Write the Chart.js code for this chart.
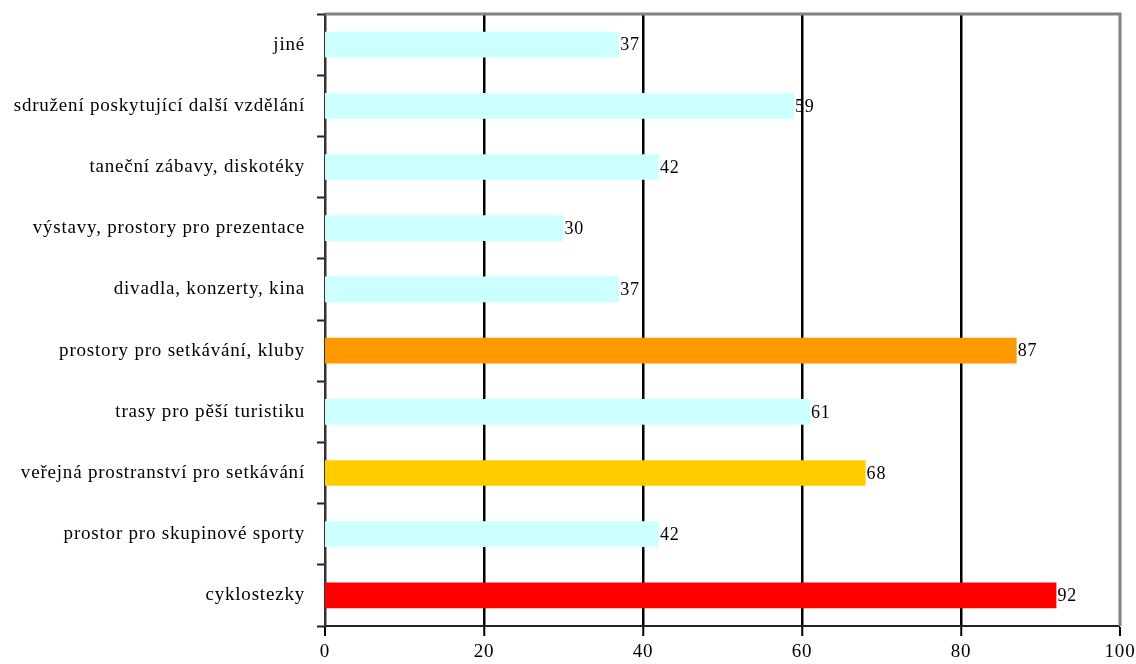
<!DOCTYPE html>
<html>
<head>
<meta charset="utf-8">
<script src="https://cdn.jsdelivr.net/npm/chart.js@4/dist/chart.umd.min.js"></script>
<style>
  html, body { margin: 0; padding: 0; background: #fff; }
  #wrap { width: 1136px; height: 664px; }
</style>
</head>
<body>
<div id="wrap"><canvas id="barChart" width="1136" height="664"></canvas></div>
<script>
// data, top row first
const categories = [
    'jiné',
    'sdružení poskytující další vzdělání',
    'taneční zábavy, diskotéky',
    'výstavy, prostory pro prezentace',
    'divadla, konzerty, kina',
    'prostory pro setkávání, kluby',
    'trasy pro pěší turistiku',
    'veřejná prostranství pro setkávání',
    'prostor pro skupinové sporty',
    'cyklostezky'
];
const values = [37, 59, 42, 30, 37, 87, 61, 68, 42, 92];
const xTicks = [0, 20, 40, 60, 80, 100];

const barColors = ['#CCFFFF', '#CCFFFF', '#CCFFFF', '#CCFFFF', '#CCFFFF',
    '#FF9900', '#CCFFFF', '#FFCC00', '#CCFFFF', '#FF0000'];

const FONT = "'Liberation Serif', 'DejaVu Serif', serif";

// value labels at bar ends + gray frame on top/right
const extras = {
    id: 'extras',
    beforeUpdate(chart) { chart.ctx.letterSpacing = '0.8px'; },
    beforeDraw(chart) { chart.ctx.letterSpacing = '0.8px'; },
    beforeDatasetsDraw(chart) {
        const a = chart.chartArea;
        const ctx = chart.ctx;
        ctx.save();
        ctx.strokeStyle = '#808080';
        ctx.lineWidth = 3;
        ctx.beginPath();
        ctx.moveTo(a.left, a.top);
        ctx.lineTo(a.right, a.top);
        ctx.lineTo(a.right, a.bottom);
        ctx.stroke();
        ctx.restore();
    },
    afterDatasetsDraw(chart) {
        const ctx = chart.ctx;
        const meta = chart.getDatasetMeta(0);
        ctx.save();
        ctx.font = '18px ' + FONT;
        ctx.fillStyle = '#000';
        ctx.textBaseline = 'middle';
        meta.data.forEach((bar, i) => {
            ctx.fillText(values[i], bar.x + 1, bar.y + 1);
        });
        ctx.restore();
    }
};

const chart = new Chart(document.getElementById('barChart'), {
    type: 'bar',
    data: {
        labels: categories,
        datasets: [{
            data: values,
            backgroundColor: barColors,
            borderWidth: 0,
            categoryPercentage: 1,
            barPercentage: 0.42
        }]
    },
    options: {
        indexAxis: 'y',
        responsive: false,
        animation: false,
        layout: { padding: { top: 14, right: 16, left: 0, bottom: 0 } },
        plugins: { legend: { display: false }, tooltip: { enabled: false } },
        scales: {
            x: {
                min: 0,
                max: 100,
                afterBuildTicks: (scale) => { scale.ticks = xTicks.map(v => ({ value: v })); },
                afterFit: (scale) => {
                    scale.height = 38;
                    scale.paddingLeft = 0;
                    scale.paddingRight = 0;
                },
                border: { display: true, color: '#222', width: 2 },
                grid: {
                    color: (c) => c.tick && c.tick.value === 100 ? '#808080' : '#000',
                    lineWidth: (c) => c.tick && (c.tick.value === 0 || c.tick.value === 100) ? 0 : 2.5,
                    tickColor: '#000',
                    tickWidth: 2,
                    tickLength: 10
                },
                ticks: {
                    color: '#000',
                    padding: 5,
                    font: { family: FONT, size: 19 }
                }
            },
            y: {
                afterFit: (scale) => {
                    scale.width = 325;
                    scale.paddingTop = 0;
                    scale.paddingBottom = 0;
                },
                border: { display: true, color: '#333', width: 2.5 },
                grid: {
                    offset: true,
                    drawOnChartArea: false,
                    tickColor: '#222',
                    tickWidth: 2,
                    tickLength: 8
                },
                ticks: {
                    color: '#000',
                    padding: 12,
                    font: { family: FONT, size: 19 }
                }
            }
        }
    },
    plugins: [extras]
});
</script>
</body>
</html>
